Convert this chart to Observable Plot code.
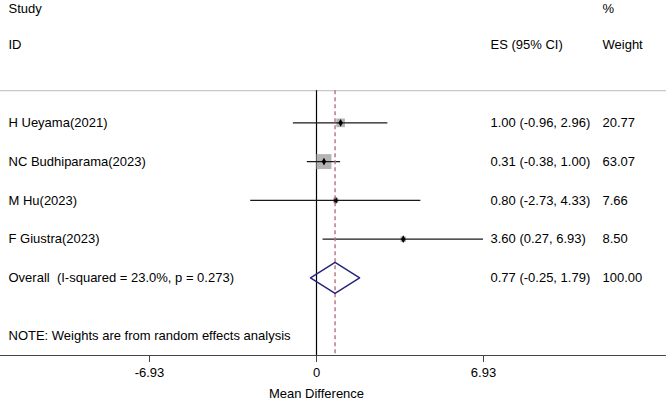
<!DOCTYPE html>
<html>
<head>
<meta charset="utf-8">
<script src="https://cdn.jsdelivr.net/npm/d3@7"></script>
<script src="https://cdn.jsdelivr.net/npm/@observablehq/plot@0.6"></script>
<style>
  html, body { margin: 0; padding: 0; background: #fff; }
  #chart svg { display: block; }
</style>
</head>
<body>
<div id="chart"></div>
<script>
// Study-level mean differences with 95% CIs and random-effects weights
const studies = ["H Ueyama(2021)", "NC Budhiparama(2023)", "M Hu(2023)", "F Giustra(2023)"];
const es = [1.00, 0.31, 0.80, 3.60];
const lo = [-0.96, -0.38, -2.73, 0.27];
const hi = [2.96, 1.00, 4.33, 6.93];
const weights = [20.77, 63.07, 7.66, 8.50];

// Pooled estimate
const overallLabel = "Overall  (I-squared = 23.0%, p = 0.273)";
const overall = {es: 0.77, lo: -0.25, hi: 1.79, weight: 100.00};

const xTicks = [-6.93, 0, 6.93];
const note = "NOTE: Weights are from random effects analysis";

// rows: headers above 0, studies 1..n, overall n+1, note and axis below
const rows = studies.map((s, i) => ({
  study: s, es: es[i], lo: lo[i], hi: hi[i], weight: weights[i], row: i + 1,
  ci: `${es[i].toFixed(2)} (${lo[i].toFixed(2)}, ${hi[i].toFixed(2)})`
}));
const overallRow = studies.length + 1;
const axisRow = overallRow + 2;
const noteRow = overallRow + 1.5;
const topRule = 0.17;
const dh = 0.4; // diamond half-height in rows

const diamond = [
  {x: overall.lo, y: overallRow},
  {x: overall.es, y: overallRow - dh},
  {x: overall.hi, y: overallRow},
  {x: overall.es, y: overallRow + dh},
  {x: overall.lo, y: overallRow}
];

const font = "'Liberation Sans', Arial, Helvetica, sans-serif";
const fs = 13;

// x scale layout, and text columns placed in the same coordinate system
const xDomain = [-6.93, 6.93], xRange = [149, 483];
const col = d3.scaleLinear().domain(xRange).range(xDomain);
const colL = col(8), colES = col(490), colW = col(602);

const labelRows = [
  ...rows.map(d => ({row: d.row, left: d.study, ci: d.ci, w: d.weight.toFixed(2)})),
  {row: overallRow, left: overallLabel,
   ci: `${overall.es.toFixed(2)} (${overall.lo.toFixed(2)}, ${overall.hi.toFixed(2)})`,
   w: overall.weight.toFixed(2)}
];

const txt = {textAnchor: "start", fontSize: fs};

const chart = Plot.plot({
  width: 666,
  height: 399,
  marginTop: 0, marginLeft: 0, marginRight: 0, marginBottom: 44,
  style: {fontFamily: font, fontSize: fs + "px", color: "#000", background: "#fff"},
  x: {domain: xDomain, range: xRange},
  y: {domain: [-2, axisRow], range: [6, 355]},
  r: {type: "sqrt", domain: [0, 100], range: [0, 10.66]},
  marks: [
    // header rule
    Plot.ruleY([topRule], {stroke: "#c8c8c8", strokeWidth: 1.2}),
    // headers
    Plot.text(["Study"], {x: colL, y: -1.95, ...txt}),
    Plot.text(["ID"], {x: colL, y: -1, ...txt}),
    Plot.text(["ES (95% CI)"], {x: colES, y: -1, ...txt}),
    Plot.text(["%"], {x: colW, y: -1.95, ...txt}),
    Plot.text(["Weight"], {x: colW, y: -1, ...txt}),
    // null line
    Plot.ruleX([0], {y1: topRule, y2: axisRow, stroke: "#000", strokeWidth: 1.2}),
    // weight boxes
    Plot.dot(rows, {x: "es", y: "row", r: "weight", symbol: "square", fill: "#b4b4b4", stroke: "none"}),
    // confidence intervals
    Plot.ruleY(rows, {y: "row", x1: "lo", x2: "hi", stroke: "#1a1a1a", strokeWidth: 1.3}),
    // point estimates
    Plot.dot(rows, {x: "es", y: "row", r: 2.3, symbol: "diamond", fill: "#000", stroke: "none"}),
    // pooled estimate line
    Plot.ruleX([overall.es], {y1: topRule, y2: axisRow, stroke: "#b9707e", strokeWidth: 1.4, strokeDasharray: "4,3"}),
    // pooled diamond
    Plot.line(diamond, {x: "x", y: "y", stroke: "#23237b", strokeWidth: 1.4}),
    // row labels
    Plot.text(labelRows, {x: () => colL, y: "row", text: "left", ...txt}),
    Plot.text(labelRows, {x: () => colES, y: "row", text: "ci", ...txt}),
    Plot.text(labelRows, {x: () => colW, y: "row", text: "w", ...txt}),
    Plot.text([note], {x: colL, y: noteRow, ...txt}),
    // x axis
    Plot.ruleY([axisRow], {stroke: "#444", strokeWidth: 1.2}),
    Plot.axisX(xTicks, {anchor: "bottom", tickSize: 7, tickPadding: 5, tickFormat: d => d.toString(), fontSize: fs, stroke: "#444", label: null}),
    Plot.text(["Mean Difference"], {x: 0, y: axisRow + 1.0, fontSize: fs})
  ]
});

document.getElementById("chart").appendChild(chart);
</script>
</body>
</html>
